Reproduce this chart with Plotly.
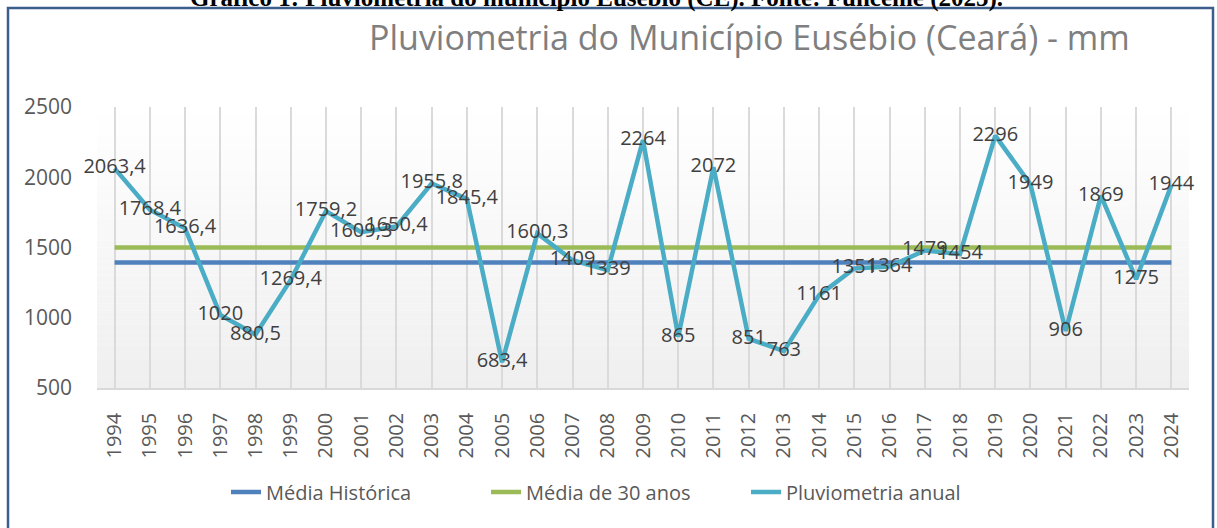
import plotly.graph_objects as go

years = [str(y) for y in range(1994, 2025)]
rain = [2063.4, 1768.4, 1636.4, 1020, 880.5, 1269.4, 1759.2, 1609.3, 1650.4, 1955.8,
        1845.4, 683.4, 1600.3, 1409, 1339, 2264, 865, 2072, 851, 763,
        1161, 1351, 1364, 1479, 1454, 2296, 1949, 906, 1869, 1275, 1944]
media_historica = 1394
media_30_anos = 1500
y_ticks = [500, 1000, 1500, 2000, 2500]

title_text = "Pluviometria do Município Eusébio (Ceará) - mm"
caption_text = "Gráfico 1: Pluviometria do município Eusébio (CE). Fonte: Funceme (2025)."

labels = [(f"{v:g}").replace(".", ",") for v in rain]

W, H = 1217, 528
L, R, T, B = 97, 28, 107, 140
pw, ph = W - L - R, H - T - B

def px(xp):
    return (xp - L) / pw

def py(yp):
    return (H - B - yp) / ph

FONT = "Open Sans"
GRAY = "#595959"

fig = go.Figure()
fig.add_trace(go.Scatter(x=years, y=[media_historica] * len(years), mode="lines",
                         name="Média Histórica", line=dict(color="#4F81BD", width=4.5),
                         hoverinfo="skip"))
fig.add_trace(go.Scatter(x=years, y=[media_30_anos] * len(years), mode="lines",
                         name="Média de 30 anos", line=dict(color="#9BBB59", width=4.5),
                         hoverinfo="skip"))
fig.add_trace(go.Scatter(x=years, y=rain, mode="lines+text", name="Pluviometria anual",
                         line=dict(color="#4BACC6", width=4.5), cliponaxis=False,
                         text=labels, textposition="middle center",
                         textfont=dict(family=FONT, size=20, color="#404040")))

# gradient background (white at top to light gray at bottom)
shapes = []
n = 40
for i in range(n):
    t0 = i / n
    t1 = (i + 1) / n
    tm = (t0 + t1) / 2
    c = int(round(255 - (255 - 239) * tm))
    shapes.append(dict(type="rect", xref="x domain", yref="y domain",
                       x0=0, x1=1, y0=1 - t1, y1=1 - t0,
                       fillcolor=f"rgb({c},{c},{c})", line=dict(width=0),
                       layer="below"))
# outer frame
shapes.append(dict(type="rect", xref="paper", yref="paper",
                   x0=px(8), x1=px(1213), y0=py(545), y1=py(8),
                   line=dict(color="#3C5E8C", width=2.5), fillcolor="rgba(0,0,0,0)",
                   layer="above"))

fig.update_layout(
    width=W, height=H,
    margin=dict(l=L, r=R, t=T, b=B),
    paper_bgcolor="white",
    plot_bgcolor="rgba(0,0,0,0)",
    font=dict(family=FONT, color=GRAY),
    showlegend=True,
    legend=dict(orientation="h", x=px(616), xanchor="center", y=py(492), yanchor="middle",
                font=dict(family=FONT, size=20, color=GRAY),
                entrywidth=215, entrywidthmode="pixels",
                traceorder="normal"),
    shapes=shapes,
    annotations=[
        dict(text=title_text, xref="paper", yref="paper", x=px(749), y=py(37),
             xanchor="center", yanchor="middle", showarrow=False,
             font=dict(family=FONT, size=34, color="#7f7f7f")),
        dict(text="<b>" + caption_text + "</b>", xref="paper", yref="paper",
             x=px(596), y=py(14), xanchor="center", yanchor="bottom", showarrow=False,
             font=dict(family="Liberation Serif", size=25, color="black")),
    ],
)
fig.update_xaxes(type="category", range=[-0.5, len(years) - 0.5], showgrid=True,
                 gridcolor="#dadada", gridwidth=1.5, tickangle=-90,
                 tickfont=dict(family=FONT, size=20, color=GRAY), showline=True,
                 linecolor="#d9d9d9", linewidth=1.5, ticks="", ticklabelstandoff=15,
                 zeroline=False)
fig.update_yaxes(range=[500, 2500], tickvals=y_ticks, showgrid=False, zeroline=False,
                 tickfont=dict(family=FONT, size=21, color=GRAY), ticks="",
                 ticklabelstandoff=24, showline=False)

fig.write_html("out.html", config={"displayModeBar": False},
               post_script="document.body.style.margin='0';")
